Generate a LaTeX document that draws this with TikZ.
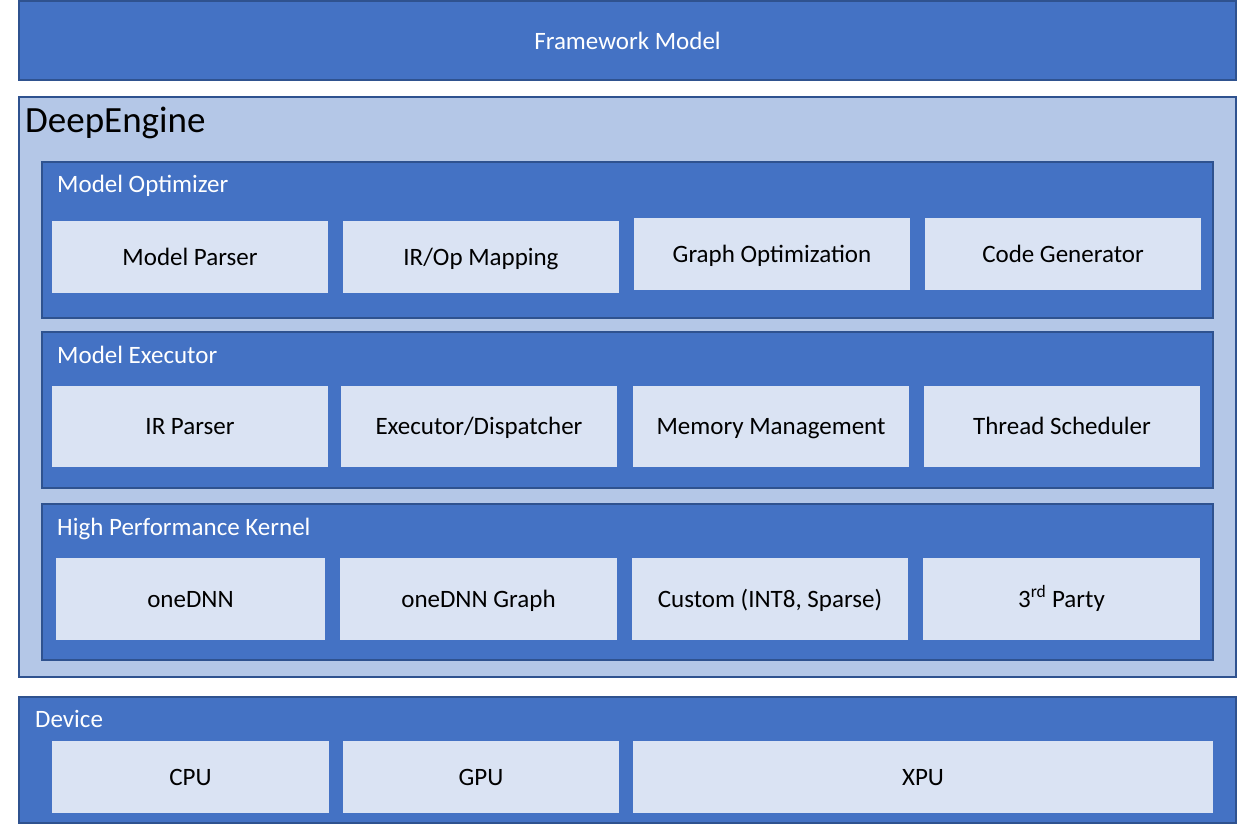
\documentclass[tikz,border=0pt]{standalone}
\usepackage{fontspec}
\setmainfont{Carlito}
\usetikzlibrary{positioning}
\definecolor{layerblue}{RGB}{68,114,196}
\definecolor{edgeblue}{RGB}{47,82,143}
\definecolor{engineblue}{RGB}{180,199,231}
\definecolor{cellblue}{RGB}{218,227,243}

\tikzset{
  layer/.style={draw=edgeblue, line width=1.6pt, fill=layerblue, anchor=north west,
    inner sep=0pt, outer sep=0pt},
  engine/.style={layer, fill=engineblue},
  cell/.style={fill=cellblue, anchor=north west, inner sep=0pt, outer sep=0pt,
    font=\fontsize{25}{29}\selectfont, text=black, text height=21pt, text depth=5pt},
  title/.style={anchor=west, text=white, font=\fontsize{25}{29}\selectfont, inner sep=0pt,
    text height=21pt, text depth=5pt}
}

\begin{document}
\begin{tikzpicture}[x=1pt, y=-1pt]
  \useasboundingbox (0,0) rectangle (1237,824);
  % top layer
  \node[layer, minimum width=1217pt, minimum height=79pt] (fw) at (19,1) {};
  \node[text=white, font=\fontsize{25}{29}\selectfont] (fwt) at (fw.center) {Framework Model};

  % engine
  \node[engine, minimum width=1217pt, minimum height=580pt] (de) at (19,97) {};
  \node[anchor=west, inner sep=0pt, font=\fontsize{37}{42}\selectfont] (det) at (25,123) {DeepEngine};

  % model optimizer
  \node[layer, minimum width=1171pt, minimum height=156pt] (mo) at (42,162) {};
  \node[title] (mot) at (57,184) {Model Optimizer};
  \foreach \x/\y/\t [count=\i] in {52/221/Model Parser, 343/221/{IR/Op Mapping},
      634/218/Graph Optimization, 925/218/Code Generator}
    \node[cell, minimum width=276pt, minimum height=72pt] (mo\i) at (\x,\y) {\t};

  % model executor
  \node[layer, minimum width=1171pt, minimum height=156pt] (me) at (42,332) {};
  \node[title] (met) at (57,355) {Model Executor};
  \foreach \x/\t [count=\i] in {52/IR Parser, 341/{Executor/Dispatcher},
      633/Memory Management, 924/Thread Scheduler}
    \node[cell, minimum width=276pt, minimum height=81pt] (me\i) at (\x,386) {\t};

  % kernels
  \node[layer, minimum width=1171pt, minimum height=156pt] (hk) at (42,504) {};
  \node[title] (hkt) at (57,527) {High Performance Kernel};
  \foreach \x/\w/\t [count=\i] in {56/269/oneDNN, 340/277/oneDNN Graph,
      632/276/{Custom (INT8, Sparse)}, 923/277/3\textsuperscript{rd} Party}
    \node[cell, minimum width=\w pt, minimum height=82pt] (hk\i) at (\x,558) {\t};

  % device
  \node[layer, minimum width=1217pt, minimum height=126pt] (dv) at (19,697) {};
  \node[title] (dvt) at (35,719) {Device};
  \foreach \x/\w/\t [count=\i] in {52/277/CPU, 343/276/GPU, 633/580/XPU}
    \node[cell, minimum width=\w pt, minimum height=72pt] (dv\i) at (\x,741) {\t};
\end{tikzpicture}
\end{document}
